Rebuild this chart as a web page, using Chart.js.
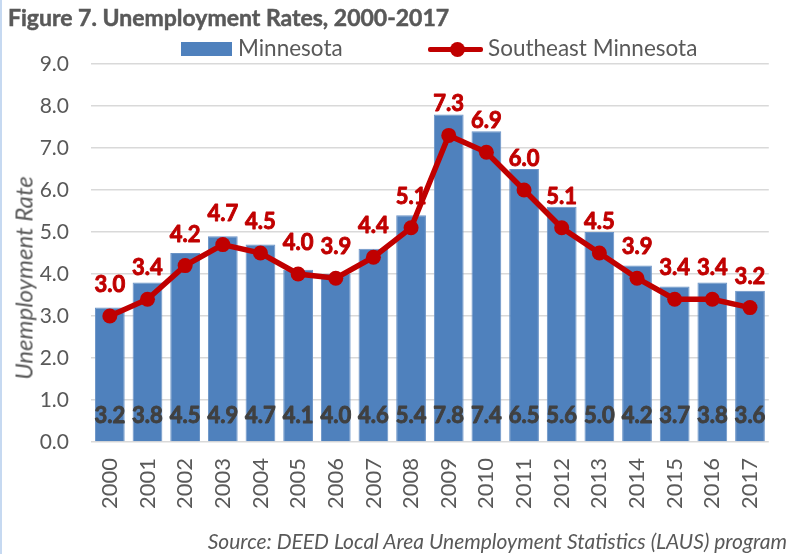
<!DOCTYPE html>
<html>
<head>
<meta charset="utf-8">
<script src="https://cdn.jsdelivr.net/npm/chart.js@4.4.1/dist/chart.umd.min.js"></script>
<style>
  html, body { margin: 0; padding: 0; background: #fff; }
  body { width: 793px; height: 554px; position: relative; overflow: hidden; font-family: Lato, "Open Sans", sans-serif; color: #595959; }
  #leftbar { position: absolute; left: 0; top: 0; width: 2px; height: 554px; background: #c6d9f1; }
  #wrap { position: absolute; left: 0; top: 0; width: 793px; height: 554px; }
  #title { position: absolute; left: 8px; top: 3px; font-weight: bold; font-size: 23px; white-space: nowrap; -webkit-text-stroke: 0.5px #595959; }
  .legtext { position: absolute; font-size: 22.5px; white-space: nowrap; line-height: 1; }
  #legbox { position: absolute; left: 181px; top: 42px; width: 51px; height: 14px; background: #4f81bd; }
  #legline { position: absolute; left: 428px; top: 46.5px; width: 55px; height: 5.5px; background: #c00000; border-radius: 2px; }
  #legdot { position: absolute; left: 450px; top: 42px; width: 15px; height: 15px; border-radius: 50%; background: #c00000; }
  #ytitle { position: absolute; left: 23px; top: 278px; transform: translate(-50%, -50%) rotate(-90deg); font-style: italic; font-size: 24px; white-space: nowrap; }
  #source { position: absolute; right: 6px; top: 528px; font-style: italic; font-size: 21px; white-space: nowrap; }
</style>
</head>
<body>
<div id="leftbar"></div>
<div id="wrap"><canvas id="c" width="793" height="554"></canvas></div>
<div id="title">Figure 7. Unemployment Rates, 2000-2017</div>
<div id="legbox"></div>
<div class="legtext" id="leg1" style="left:238px; top:37px;">Minnesota</div>
<div id="legline"></div>
<div id="legdot"></div>
<div class="legtext" id="leg2" style="left:488px; top:37px;">Southeast Minnesota</div>
<div id="ytitle">Unemployment Rate</div>
<div id="source">Source: DEED Local Area Unemployment Statistics (LAUS) program</div>
<script>
const years = ["2000","2001","2002","2003","2004","2005","2006","2007","2008","2009","2010","2011","2012","2013","2014","2015","2016","2017"];
const minnesota = [3.2,3.8,4.5,4.9,4.7,4.1,4.0,4.6,5.4,7.8,7.4,6.5,5.6,5.0,4.2,3.7,3.8,3.6];
const southeastMN = [3.0,3.4,4.2,4.7,4.5,4.0,3.9,4.4,5.1,7.3,6.9,6.0,5.1,4.5,3.9,3.4,3.4,3.2];
const yTicks = [0,1,2,3,4,5,6,7,8,9];

const FONT = "Lato, 'Open Sans', sans-serif";

const labelPlugin = {
  id: 'valueLabels',
  afterDatasetsDraw(chart) {
    const ctx = chart.ctx;
    const ys = chart.scales.y;
    ctx.save();
    ctx.textAlign = 'center';
    ctx.textBaseline = 'middle';
    ctx.font = "bold 22px " + FONT;
    ctx.lineWidth = 0.9;
    ctx.lineJoin = 'round';
    const barMeta = chart.getDatasetMeta(1);
    ctx.fillStyle = '#404040';
    ctx.strokeStyle = '#404040';
    barMeta.data.forEach((el, i) => {
      const t = minnesota[i].toFixed(1);
      const y = ys.getPixelForValue(0) - 26;
      ctx.fillText(t, el.x, y);
      ctx.strokeText(t, el.x, y);
    });
    const lineMeta = chart.getDatasetMeta(0);
    ctx.fillStyle = '#c00000';
    ctx.strokeStyle = '#c00000';
    lineMeta.data.forEach((el, i) => {
      const t = southeastMN[i].toFixed(1);
      ctx.fillText(t, el.x, el.y - 31);
      ctx.strokeText(t, el.x, el.y - 31);
    });
    ctx.restore();
  }
};

new Chart(document.getElementById('c'), {
  data: {
    labels: years,
    datasets: [
      {
        type: 'line',
        label: 'Southeast Minnesota',
        data: southeastMN,
        borderColor: '#c00000',
        backgroundColor: '#c00000',
        borderWidth: 5.5,
        pointRadius: 7.5,
        pointBackgroundColor: '#c00000',
        pointBorderWidth: 0,
        tension: 0,
        order: 0
      },
      {
        type: 'bar',
        label: 'Minnesota',
        data: minnesota,
        backgroundColor: '#4f81bd',
        borderColor: '#6a93c6',
        borderWidth: 1,
        categoryPercentage: 1.0,
        barPercentage: 0.79,
        order: 1
      }
    ]
  },
  options: {
    responsive: false,
    animation: false,
    devicePixelRatio: 1,
    layout: { padding: { left: 0, right: 22, top: 64, bottom: 0 } },
    plugins: {
      legend: { display: false },
      tooltip: { enabled: false },
      title: { display: false }
    },
    scales: {
      x: {
        grid: { display: false, drawTicks: false },
        border: { display: false },
        ticks: {
          color: '#595959',
          font: { family: FONT, size: 22 },
          maxRotation: 90,
          minRotation: 90,
          padding: 16
        },
        afterFit(scale) { scale.height = 112; }
      },
      y: {
        min: 0,
        max: 9,
        afterBuildTicks(scale) { scale.ticks = yTicks.map(v => ({ value: v })); },
        grid: { color: '#d9d9d9', lineWidth: 1.5, drawTicks: false },
        border: { display: false },
        ticks: {
          color: '#595959',
          font: { family: FONT, size: 21 },
          padding: 22,
          callback: v => Number(v).toFixed(1)
        },
        afterFit(scale) { scale.width = 91; }
      }
    }
  },
  plugins: [labelPlugin]
});
</script>
</body>
</html>
